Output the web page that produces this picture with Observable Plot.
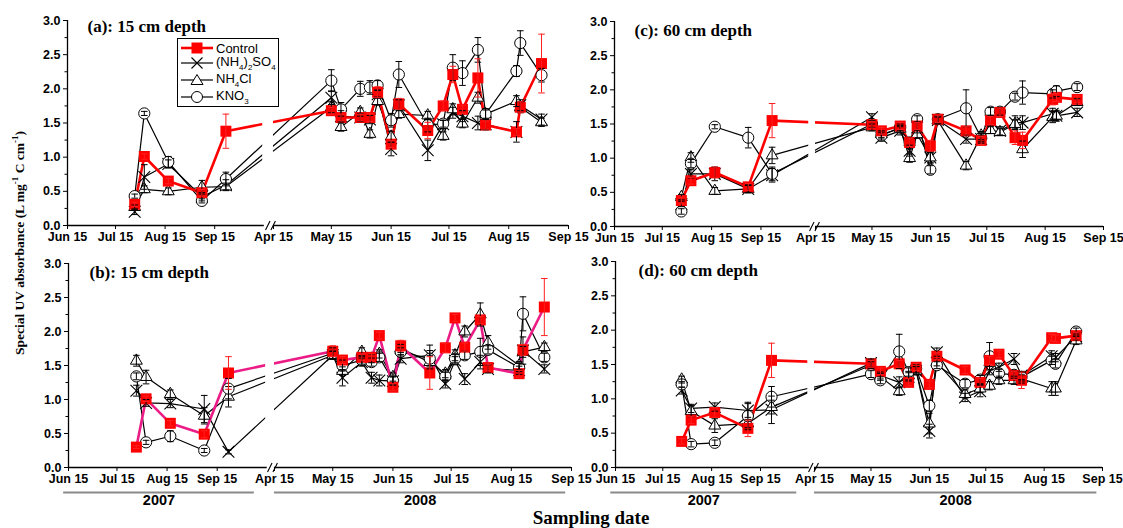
<!DOCTYPE html>
<html><head><meta charset="utf-8">
<script src="https://cdn.jsdelivr.net/npm/d3@7"></script>
<script src="https://cdn.jsdelivr.net/npm/@observablehq/plot@0.6"></script>
<style>
body{margin:0;background:#fff;}
#wrap{position:relative;width:1123px;height:528px;overflow:hidden;background:#fff;}
#wrap svg.panel{position:absolute;left:0;top:0;}
.ytitle{position:absolute;left:19px;top:243px;transform:translate(-50%,-50%) rotate(-90deg);white-space:nowrap;font:bold 13.5px "Liberation Serif","Times New Roman",serif;}
.ytitle sup{font-size:9px;}
.xtitle{position:absolute;left:591px;top:518px;transform:translate(-50%,-50%);white-space:nowrap;font:bold 19px "Liberation Serif","Times New Roman",serif;}
.legend{position:absolute;left:177px;top:38px;width:100px;height:67px;border:1px solid #000;background:#fff;font:13px "Liberation Sans",Arial,sans-serif;}
.legend .row{position:absolute;left:2px;height:16px;display:flex;align-items:center;}
.legend svg{display:block;margin-right:2px;}
.legend sub{font-size:8px;}
</style>
</head><body><div id="wrap"></div>
<script>
// ---------------- data ----------------
const seriesNames = ["Control", "(NH4)2SO4", "NH4Cl", "KNO3"];
const sampleDates = ["2007-07-27","2007-08-02","2007-08-17","2007-09-07","2007-09-22",
  "2008-05-15","2008-05-20","2008-05-30","2008-06-04","2008-06-08","2008-06-15","2008-06-19",
  "2008-07-04","2008-07-12","2008-07-17","2008-07-22","2008-07-30","2008-08-03","2008-08-19","2008-08-21","2008-09-01"];
const xTickDates = ["2007-06-15","2007-07-15","2007-08-15","2007-09-15","2008-04-15","2008-05-15","2008-06-15","2008-07-15","2008-08-15","2008-09-15"];
const xTickLabels = ["Jun 15","Jul 15","Aug 15","Sep 15","Apr 15","May 15","Jun 15","Jul 15","Aug 15","Sep 15"];
const yTicks = [0, 0.5, 1, 1.5, 2, 2.5, 3];
const yMinorTicks = [0.25, 0.75, 1.25, 1.75, 2.25, 2.75];
const yearLabels = ["2007", "2008"];
const yearStarts = ["2007-06-12", "2008-04-15"];
const yearEnds = ["2007-10-08", "2008-09-12"];

// (a) 15 cm depth
const aControl    = [0.31,1.01,0.65,0.48,1.38, 1.68,1.58,1.58,1.58,1.95,1.19,1.78,1.39,1.75,2.21,1.70,2.16,1.47,1.37,1.73,2.37];
const aControlErr = [0.03,0.04,0.04,0.05,0.25, 0.05,0.05,0.05,0.06,0.08,0.05,0.08,0.12,0.07,0.12,0.06,0.28,0.06,0.05,0.08,0.43];
const aSulfate    = [0.20,0.71,0.90,0.42,0.59, 1.87,1.60,1.58,1.55,1.92,1.12,1.76,1.10,1.48,1.65,1.60,1.50,1.48,1.37,1.76,1.55];
const aSulfateErr = [0.04,0.18,0.06,0.06,0.08, 0.10,0.08,0.06,0.06,0.06,0.10,0.08,0.15,0.06,0.08,0.08,0.10,0.08,0.15,0.08,0.08];
const aChloride   = [0.27,0.53,0.50,0.56,0.57, 1.73,1.44,1.66,1.34,1.82,1.30,1.63,1.61,1.31,1.70,1.49,1.87,1.63,1.82,1.73,1.51];
const aChlorideErr= [0.03,0.05,0.05,0.10,0.05, 0.08,0.06,0.06,0.06,0.06,0.08,0.06,0.06,0.06,0.08,0.06,0.08,0.06,0.08,0.08,0.06];
const aNitrate    = [0.43,1.64,0.93,0.36,0.68, 2.12,1.70,2.00,2.02,2.05,1.54,2.21,1.47,1.49,2.31,2.23,2.57,1.63,2.26,2.67,2.20];
const aNitrateErr = [0.03,0.03,0.08,0.03,0.10, 0.16,0.10,0.11,0.10,0.07,0.10,0.19,0.10,0.05,0.19,0.18,0.18,0.08,0.08,0.18,0.10];

// (b) 15 cm depth
const bControl    = [0.30,1.01,0.65,0.49,1.39, 1.71,1.58,1.62,1.62,1.94,1.18,1.79,1.39,1.76,2.20,1.77,2.17,1.47,1.38,1.73,2.36];
const bControlErr = [0.02,0.04,0.04,0.05,0.24, 0.08,0.05,0.05,0.05,0.05,0.05,0.08,0.24,0.07,0.05,0.06,0.05,0.05,0.05,0.08,0.42];
const bSulfate    = [1.13,0.95,0.94,0.86,0.23, 1.65,1.32,1.55,1.32,1.28,1.27,1.60,1.65,1.23,1.57,1.30,1.55,1.45,1.43,1.72,1.45];
const bSulfateErr = [0.08,0.05,0.06,0.20,0.03, 0.06,0.12,0.06,0.08,0.08,0.06,0.06,0.15,0.06,0.06,0.08,0.10,0.06,0.06,0.20,0.06];
const bChloride   = [1.57,1.33,1.08,0.76,1.04, 1.65,1.42,1.70,1.60,1.67,1.33,1.75,1.55,1.38,1.65,2.00,2.25,1.84,1.50,1.70,1.77];
const bChlorideErr= [0.08,0.10,0.06,0.12,0.15, 0.06,0.06,0.06,0.06,0.06,0.06,0.06,0.10,0.06,0.08,0.08,0.17,0.10,0.06,0.08,0.06];
const bNitrate    = [1.34,0.37,0.46,0.25,1.16, 1.68,1.50,1.58,1.55,1.62,1.28,1.70,1.60,1.34,1.60,1.65,1.70,1.73,1.47,2.26,1.62];
const bNitrateErr = [0.05,0.03,0.08,0.03,0.15, 0.08,0.08,0.06,0.06,0.06,0.06,0.06,0.12,0.06,0.06,0.06,0.20,0.06,0.06,0.25,0.06];

// (c) 60 cm depth
const cControl    = [0.38,0.67,0.79,0.58,1.55, 1.49,1.40,1.47,1.23,1.47,1.18,1.57,1.40,1.26,1.55,1.67,1.30,1.26,1.86,1.89,1.86];
const cControlErr = [0.05,0.05,0.08,0.05,0.25, 0.05,0.05,0.05,0.06,0.05,0.08,0.05,0.06,0.06,0.06,0.06,0.10,0.12,0.08,0.06,0.05];
const cSulfate    = [0.33,0.77,0.77,0.55,0.75, 1.60,1.30,1.40,1.11,1.45,1.01,1.56,1.28,1.28,1.55,1.40,1.52,1.52,1.65,1.62,1.67];
const cSulfateErr = [0.04,0.06,0.10,0.06,0.10, 0.05,0.05,0.06,0.08,0.08,0.08,0.05,0.06,0.06,0.08,0.06,0.10,0.10,0.08,0.08,0.06];
const cChloride   = [0.43,1.01,0.52,0.55,1.04, 1.45,1.35,1.43,1.00,1.35,1.01,1.55,0.89,1.33,1.41,1.38,1.50,1.13,1.60,1.62,1.82];
const cChlorideErr= [0.04,0.07,0.05,0.05,0.12, 0.05,0.05,0.05,0.06,0.06,0.08,0.05,0.06,0.06,0.05,0.05,0.06,0.12,0.08,0.06,0.05];
const cNitrate    = [0.22,0.92,1.46,1.30,0.77, 1.50,1.33,1.45,1.23,1.57,0.83,1.57,1.73,1.30,1.68,1.68,1.90,1.96,1.94,1.98,2.04];
const cNitrateErr = [0.04,0.06,0.03,0.15,0.10, 0.05,0.05,0.05,0.06,0.05,0.06,0.05,0.27,0.06,0.06,0.05,0.05,0.17,0.06,0.08,0.05];

// (d) 60 cm depth
const dControl    = [0.38,0.69,0.80,0.57,1.56, 1.51,1.40,1.51,1.24,1.46,1.21,1.62,1.42,1.24,1.56,1.65,1.34,1.27,1.89,1.88,1.92];
const dControlErr = [0.04,0.05,0.07,0.12,0.25, 0.05,0.05,0.05,0.05,0.05,0.05,0.05,0.05,0.06,0.06,0.05,0.06,0.12,0.05,0.05,0.05];
const dSulfate    = [1.12,0.86,0.88,0.83,0.84, 1.52,1.34,1.24,1.32,1.41,0.53,1.68,1.02,1.11,1.41,1.46,1.58,1.34,1.62,1.60,1.91];
const dSulfateErr = [0.05,0.06,0.06,0.10,0.20, 0.06,0.05,0.08,0.06,0.06,0.10,0.06,0.06,0.08,0.06,0.06,0.08,0.06,0.08,0.06,0.05];
const dChloride   = [1.28,0.82,0.61,0.64,0.88, 1.49,1.32,1.11,1.34,1.41,0.64,1.53,1.07,1.15,1.19,1.27,1.27,1.29,1.15,1.15,1.85];
const dChlorideErr= [0.05,0.08,0.10,0.06,0.10, 0.05,0.05,0.06,0.06,0.06,0.15,0.05,0.06,0.06,0.06,0.06,0.06,0.06,0.10,0.10,0.06];
const dNitrate    = [1.21,0.34,0.36,0.75,1.03, 1.36,1.27,1.69,1.39,1.44,0.90,1.49,1.22,1.28,1.62,1.37,1.35,1.32,1.56,1.51,1.98];
const dNitrateErr = [0.04,0.04,0.04,0.20,0.15, 0.05,0.05,0.25,0.06,0.06,0.08,0.05,0.06,0.06,0.20,0.06,0.05,0.06,0.06,0.06,0.05];

// ---------------- layout ----------------
const D = s => new Date(s);
const W = 1123, H = 528;
const xDomain = ["2007-06-15", "2007-10-18", "2008-04-15", "2008-09-15"].map(D);
const gapSpan = ["2007-10-15", "2008-04-14"];
const axisSegs = [["2007-06-15", "2007-10-16"], ["2008-04-14", "2008-09-15"]];
const breakMid = "2008-01-15";
const labelMap = new Map(xTickDates.map((d, i) => [+D(d), xTickLabels[i]]));

const panels = [
  {title: "(a): 15 cm depth", xr: [67, 267, 273, 568], yr: [225, 20], tdx: 20, tdy: 6, years: false, ctrlLine: "#ff0000",
   series: [[aControl, aControlErr], [aSulfate, aSulfateErr], [aChloride, aChlorideErr], [aNitrate, aNitrateErr]]},
  {title: "(b): 15 cm depth", xr: [68, 270, 274, 571], yr: [467, 263], tdx: 21, tdy: 9, years: true, ctrlLine: "#ec1c86",
   series: [[bControl, bControlErr], [bSulfate, bSulfateErr], [bChloride, bChlorideErr], [bNitrate, bNitrateErr]]},
  {title: "(c): 60 cm depth", xr: [614, 813, 815, 1103], yr: [226, 21], tdx: 20, tdy: 9, years: false, ctrlLine: "#ff0000",
   series: [[cControl, cControlErr], [cSulfate, cSulfateErr], [cChloride, cChlorideErr], [cNitrate, cNitrateErr]]},
  {title: "(d): 60 cm depth", xr: [615, 812, 814, 1102], yr: [467, 261], tdx: 23, tdy: 9, years: true, ctrlLine: "#ff0000",
   series: [[dControl, dControlErr], [dSulfate, dSulfateErr], [dChloride, dChlorideErr], [dNitrate, dNitrateErr]]}
];

const capSymbol = {draw(ctx, size) { const w = Math.sqrt(size / Math.PI); ctx.moveTo(-w, 0); ctx.lineTo(w, 0); }};
const breakSymbol = {draw(ctx, size) {
  const s = Math.sqrt(size / Math.PI);
  ctx.moveTo(-s * 1.1, s); ctx.lineTo(-s * 0.1, -s);
  ctx.moveTo(s * 0.1, s); ctx.lineTo(s * 1.1, -s);
}};

function drawPanel(p) {
  const rows = [];
  p.series.forEach(([vals, errs], k) => vals.forEach((v, i) =>
    rows.push({series: seriesNames[k], date: D(sampleDates[i]), v, e: errs[i]})));
  const by = n => rows.filter(r => r.series === n);
  const ctrl = by("Control");
  const trt = rows.filter(r => r.series !== "Control");
  const errMarks = (data, color) => [
    Plot.ruleX(data, {x: "date", y1: d => d.v - d.e, y2: d => d.v + d.e, stroke: color, strokeWidth: 1}),
    Plot.dot(data, {x: "date", y: d => d.v + d.e, symbol: capSymbol, r: 3.3, stroke: color, fill: "none", strokeWidth: 1}),
    Plot.dot(data, {x: "date", y: d => d.v - d.e, symbol: capSymbol, r: 3.3, stroke: color, fill: "none", strokeWidth: 1})
  ];
  const marks = [
    Plot.line(trt, {x: "date", y: "v", z: "series", stroke: "#000", strokeWidth: 1.2}),
    Plot.line(ctrl, {x: "date", y: "v", stroke: p.ctrlLine, strokeWidth: 2.6}),
    Plot.rect([gapSpan], {x1: d => D(d[0]), x2: d => D(d[1]), y1: () => 0.02, y2: () => 3, fill: "white"}),
    Plot.dot(by("(NH4)2SO4"), {x: "date", y: "v", symbol: "times", r: 5.4, stroke: "#000", strokeWidth: 1.1}),
    Plot.dot(by("NH4Cl"), {x: "date", y: "v", symbol: "triangle", r: 4.4, fill: "white", stroke: "#000", strokeWidth: 1}),
    Plot.dot(by("KNO3"), {x: "date", y: "v", r: 5.6, fill: "white", stroke: "#000", strokeWidth: 1}),
    Plot.dot(ctrl, {x: "date", y: "v", symbol: "square", r: 6.2, fill: "#ff0000"}),
    ...errMarks(trt, "#000"),
    ...errMarks(ctrl, "#ff2020"),
    Plot.ruleX([xDomain[0]], {y1: () => 0, y2: () => 3, stroke: "#000", strokeWidth: 1.3}),
    Plot.ruleY(axisSegs, {x1: d => D(d[0]), x2: d => D(d[1]), y: () => 0, stroke: "#000", strokeWidth: 1.3}),
    Plot.dot([breakMid], {x: d => D(d), y: () => 0, symbol: breakSymbol, r: 4.5, stroke: "#000", fill: "none", strokeWidth: 1.1}),
    Plot.axisY({ticks: yTicks, tickFormat: d3.format(".1f"), tickSize: 4, tickPadding: 3, label: null, fontWeight: "bold", fontSize: 12.5}),
    Plot.axisY({ticks: yMinorTicks, tickFormat: () => "", tickSize: 2.5, label: null}),
    Plot.axisX({ticks: xTickDates.map(D), tickFormat: d => labelMap.get(+d), tickSize: 4, tickPadding: 3, label: null, fontWeight: "bold", fontSize: 12.5}),
    Plot.text([p.title], {frameAnchor: "top-left", dx: p.tdx, dy: p.tdy, text: d => d, textAnchor: "start", lineAnchor: "middle",
      fontFamily: "'Liberation Serif','Times New Roman',serif", fontWeight: "bold", fontSize: 17})
  ];
  if (p.years) {
    const idx = yearLabels.map((_, i) => i);
    marks.push(
      Plot.ruleY(idx, {x1: i => D(yearStarts[i]), x2: i => D(yearEnds[i]), y: () => 0, dy: 25, stroke: "#8a8a8a", strokeWidth: 2}),
      Plot.text(idx, {x: i => new Date((+D(yearStarts[i]) + +D(yearEnds[i])) / 2), y: () => 0, dy: 27, text: i => yearLabels[i],
        lineAnchor: "top", fontWeight: "bold", fontSize: 14.5})
    );
  }
  const svg = Plot.plot({
    width: W, height: H,
    marginLeft: p.xr[0], marginRight: W - p.xr[3], marginTop: p.yr[1], marginBottom: H - p.yr[0],
    x: {type: "utc", domain: xDomain, range: p.xr},
    y: {domain: [0, 3], range: p.yr},
    style: {background: "transparent", overflow: "visible", fontFamily: "'Liberation Sans',Arial,sans-serif", fontSize: "12.5px", color: "#000"},
    marks
  });
  svg.classList.add("panel");
  return svg;
}

const wrap = document.getElementById("wrap");
panels.forEach(p => wrap.appendChild(drawPanel(p)));

// axis titles
const yt = document.createElement("div");
yt.className = "ytitle";
yt.innerHTML = "Special UV absorbance (L mg<sup>-1</sup> C cm<sup>-1</sup>)";
wrap.appendChild(yt);
const xt = document.createElement("div");
xt.className = "xtitle";
xt.textContent = "Sampling date";
wrap.appendChild(xt);

// legend for panel (a)
const legendLabels = ["Control", "(NH<sub>4</sub>)<sub>2</sub>SO<sub>4</sub>", "NH<sub>4</sub>Cl", "KNO<sub>3</sub>"];
const legendIcons = [
  '<line x1="1" y1="8" x2="33" y2="8" stroke="#ff0000" stroke-width="2.6"/><rect x="11.5" y="2.5" width="11" height="11" fill="#ff0000"/>',
  '<line x1="1" y1="8" x2="33" y2="8" stroke="#000" stroke-width="1.2"/><path d="M11.5 2.5L22.5 13.5M22.5 2.5L11.5 13.5" stroke="#000" stroke-width="1.1"/>',
  '<line x1="1" y1="8" x2="33" y2="8" stroke="#000" stroke-width="1.2"/><path d="M17 2.5L23 12.5L11 12.5Z" fill="#fff" stroke="#000"/>',
  '<line x1="1" y1="8" x2="33" y2="8" stroke="#000" stroke-width="1.2"/><circle cx="17" cy="8" r="5.5" fill="#fff" stroke="#000"/>'
];
const lg = document.createElement("div");
lg.className = "legend";
const rowTops = [1, 16, 33, 50];
legendLabels.forEach((lab, i) => {
  const r = document.createElement("div");
  r.className = "row";
  r.style.top = rowTops[i] + "px";
  r.innerHTML = '<svg width="34" height="16">' + legendIcons[i] + '</svg><span>' + lab + '</span>';
  lg.appendChild(r);
});
wrap.appendChild(lg);
</script>
</body></html>
